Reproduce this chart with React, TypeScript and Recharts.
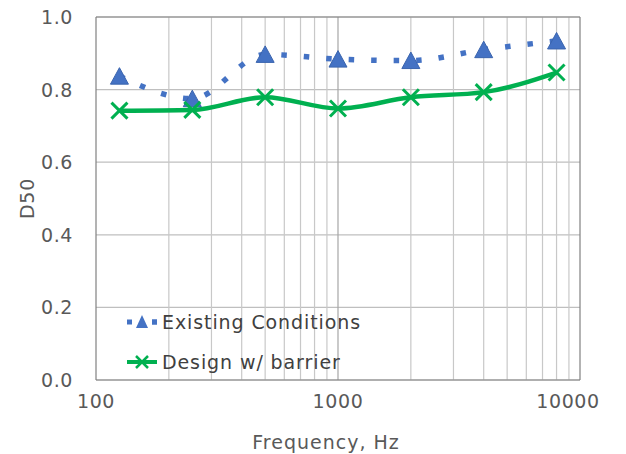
import React from "react";
import {
  LineChart,
  Line,
  XAxis,
  YAxis,
  CartesianGrid,
  ReferenceLine,
} from "recharts";

const frequencies = [125, 250, 500, 1000, 2000, 4000, 8000];
const existingConditions = [0.837, 0.775, 0.897, 0.884, 0.88, 0.91, 0.934];
const designWithBarrier = [0.742, 0.744, 0.779, 0.748, 0.779, 0.793, 0.847];

const xTicks = [100, 1000, 10000];
const yTicks = [0, 0.2, 0.4, 0.6, 0.8, 1.0];
const minorFreqs = [
  200, 300, 400, 500, 600, 700, 800, 900, 1000,
  2000, 3000, 4000, 5000, 6000, 7000, 8000, 9000,
];

const BLUE = "#4472C4";
const GREEN = "#00B050";
const TEXT = "#595959";
const FONT = "'DejaVu Sans', Verdana, sans-serif";

const data = frequencies.map((f, i) => ({
  freq: f,
  existing: existingConditions[i],
  design: designWithBarrier[i],
}));

const TriangleDot = (props: any) => {
  const { cx, cy } = props;
  if (cx == null || cy == null) return null;
  return (
    <path
      d={`M${cx},${cy - 8.5} L${cx + 9},${cy + 8} L${cx - 9},${cy + 8} Z`}
      fill={BLUE}
      stroke="#3A64AE"
      strokeWidth={1}
    />
  );
};

const CrossDot = (props: any) => {
  const { cx, cy } = props;
  if (cx == null || cy == null) return null;
  const r = 8;
  return (
    <g stroke={GREEN} strokeWidth={3}>
      <line x1={cx - r} y1={cy - r} x2={cx + r} y2={cy + r} />
      <line x1={cx - r} y1={cy + r} x2={cx + r} y2={cy - r} />
    </g>
  );
};

const XTick = (props: any) => {
  const { x, y, payload } = props;
  // Excel nudges the last label so it stays inside the picture
  const shift = payload.value === 10000 ? -12 : 0;
  return (
    <text
      x={x + shift}
      y={y}
      dy={20}
      textAnchor="middle"
      fill={TEXT}
      fontSize={19}
      fontFamily={FONT}
      letterSpacing={0.6}
    >
      {payload.value}
    </text>
  );
};

const YTick = (props: any) => {
  const { x, y, payload } = props;
  return (
    <text
      x={x - 15}
      y={y}
      dy={7}
      textAnchor="end"
      fill={TEXT}
      fontSize={19}
      fontFamily={FONT}
      letterSpacing={0.6}
    >
      {payload.value.toFixed(1)}
    </text>
  );
};

function LegendBox() {
  const row: React.CSSProperties = {
    display: "flex",
    alignItems: "center",
    height: 40,
  };
  const label: React.CSSProperties = {
    marginLeft: 5,
    fontSize: 19,
    letterSpacing: 0.9,
    color: "#404040",
    fontFamily: FONT,
    whiteSpace: "nowrap",
  };
  return (
    <div style={{ position: "absolute", left: 127, top: 302 }}>
      <div style={row}>
        <svg width={30} height={20}>
          <line x1={0} y1={10} x2={30} y2={10} stroke={BLUE} strokeWidth={5} strokeDasharray="5 20" />
          <line x1={25} y1={10} x2={30} y2={10} stroke={BLUE} strokeWidth={5} />
          <path d="M15,3 L21,16 L9,16 Z" fill={BLUE} />
        </svg>
        <span style={label}>Existing Conditions</span>
      </div>
      <div style={row}>
        <svg width={30} height={20}>
          <line x1={0} y1={10} x2={30} y2={10} stroke={GREEN} strokeWidth={4} />
          <g stroke={GREEN} strokeWidth={2.5}>
            <line x1={9} y1={4} x2={21} y2={16} />
            <line x1={9} y1={16} x2={21} y2={4} />
          </g>
        </svg>
        <span style={label}>Design w/ barrier</span>
      </div>
    </div>
  );
}

export default function App() {
  return (
    <div
      style={{
        position: "absolute",
        left: 0,
        top: 0,
        width: 626,
        height: 454,
        background: "#fff",
      }}
    >
      <LineChart
        width={626}
        height={454}
        data={data}
        margin={{ top: 17, right: 46, bottom: 34, left: 0 }}
      >
        <CartesianGrid vertical={false} stroke="#BFBFBF" strokeWidth={1.2} />
        {minorFreqs.map((f) => (
          <ReferenceLine
            key={f}
            x={f}
            stroke={f === 1000 ? "#A6A6A6" : "#C8C8C8"}
            strokeWidth={1.2}
          />
        ))}
        <ReferenceLine y={1} stroke="#808080" strokeWidth={1.2} />
        <ReferenceLine x={10000} stroke="#808080" strokeWidth={1.2} />
        <XAxis
          dataKey="freq"
          type="number"
          scale="log"
          domain={[100, 10000]}
          ticks={xTicks}
          allowDataOverflow
          height={40}
          tickLine={false}
          axisLine={{ stroke: "#808080", strokeWidth: 1.2 }}
          tick={<XTick />}
          label={{
            value: "Frequency, Hz",
            position: "center",
            dx: -12,
            dy: 42,
            fill: TEXT,
            fontSize: 19,
            letterSpacing: 1,
            fontFamily: FONT,
          }}
        />
        <YAxis
          type="number"
          domain={[0, 1]}
          ticks={yTicks}
          width={96}
          tickLine={false}
          axisLine={{ stroke: "#808080", strokeWidth: 1.2 }}
          tick={<YTick />}
          label={{
            value: "D50",
            angle: -90,
            position: "center",
            dx: -21,
            fill: TEXT,
            fontSize: 19,
            letterSpacing: 0.8,
            fontFamily: FONT,
          }}
        />
        <Line
          dataKey="existing"
          type="monotone"
          stroke={BLUE}
          strokeWidth={5.5}
          strokeDasharray="5.5 17"
          dot={<TriangleDot />}
          activeDot={false}
          isAnimationActive={false}
        />
        <Line
          dataKey="design"
          type="monotone"
          stroke={GREEN}
          strokeWidth={4.5}
          dot={<CrossDot />}
          activeDot={false}
          isAnimationActive={false}
        />
      </LineChart>
      <LegendBox />
    </div>
  );
}
